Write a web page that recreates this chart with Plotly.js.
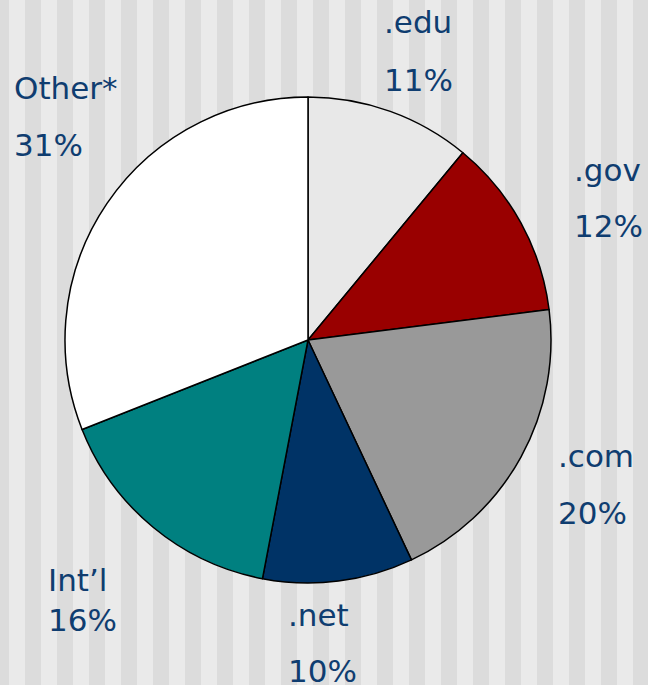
<!DOCTYPE html>
<html>
<head>
<meta charset="utf-8">
<script src="https://cdn.plot.ly/plotly-3.0.1.min.js"></script>
<style>html,body{margin:0;padding:0;background:#eaeaea;}#chart{width:648px;height:685px;}</style>
</head>
<body>
<div id="chart"></div>
<script>
var categories = [".edu", ".gov", ".com", ".net", "Int\u2019l", "Other*"];
var values = [11, 12, 20, 10, 16, 31];
var sliceColors = ["#e8e8e8", "#990000", "#999999", "#003366", "#008080", "#ffffff"];

// label placement (pixels): [left x, name center y, percent center y]
var labelPos = [
  [382, 22, 80],
  [572, 170, 226],
  [556, 456, 513],
  [286, 615, 671],
  [46, 580, 620],
  [12, 88, 145]
];

var W = 648, H = 685;
var shapes = [];
for (var x = -7; x < W; x += 32) {
  shapes.push({type: "rect", xref: "paper", yref: "paper", layer: "below",
    x0: x / W, x1: (x + 16) / W, y0: 0, y1: 1,
    fillcolor: "#dcdcdc", line: {width: 0}});
}

var font = {family: "DejaVu Sans, Verdana, sans-serif", size: 31, color: "#0f3d70"};
var annotations = [];
for (var i = 0; i < categories.length; i++) {
  var p = labelPos[i];
  annotations.push({xref: "paper", yref: "paper", x: p[0] / W, y: 1 - p[1] / H,
    xanchor: "left", yanchor: "middle", showarrow: false, text: categories[i], font: font});
  annotations.push({xref: "paper", yref: "paper", x: p[0] / W, y: 1 - p[2] / H,
    xanchor: "left", yanchor: "middle", showarrow: false, text: values[i] + "%", font: font});
}

var cx = 308, cy = 340, r = 243;
var data = [{
  type: "pie",
  labels: categories,
  values: values,
  sort: false,
  direction: "clockwise",
  rotation: 0,
  textinfo: "none",
  hoverinfo: "label+percent",
  marker: {colors: sliceColors, line: {color: "#000000", width: 1.5}},
  domain: {x: [(cx - r) / W, (cx + r) / W], y: [1 - (cy + r) / H, 1 - (cy - r) / H]},
  showlegend: false
}];

var layout = {
  width: W, height: H,
  margin: {l: 0, r: 0, t: 0, b: 0, pad: 0},
  paper_bgcolor: "#eaeaea",
  plot_bgcolor: "#eaeaea",
  showlegend: false,
  shapes: shapes,
  annotations: annotations
};

Plotly.newPlot("chart", data, layout, {displayModeBar: false, staticPlot: true});
</script>
</body>
</html>
